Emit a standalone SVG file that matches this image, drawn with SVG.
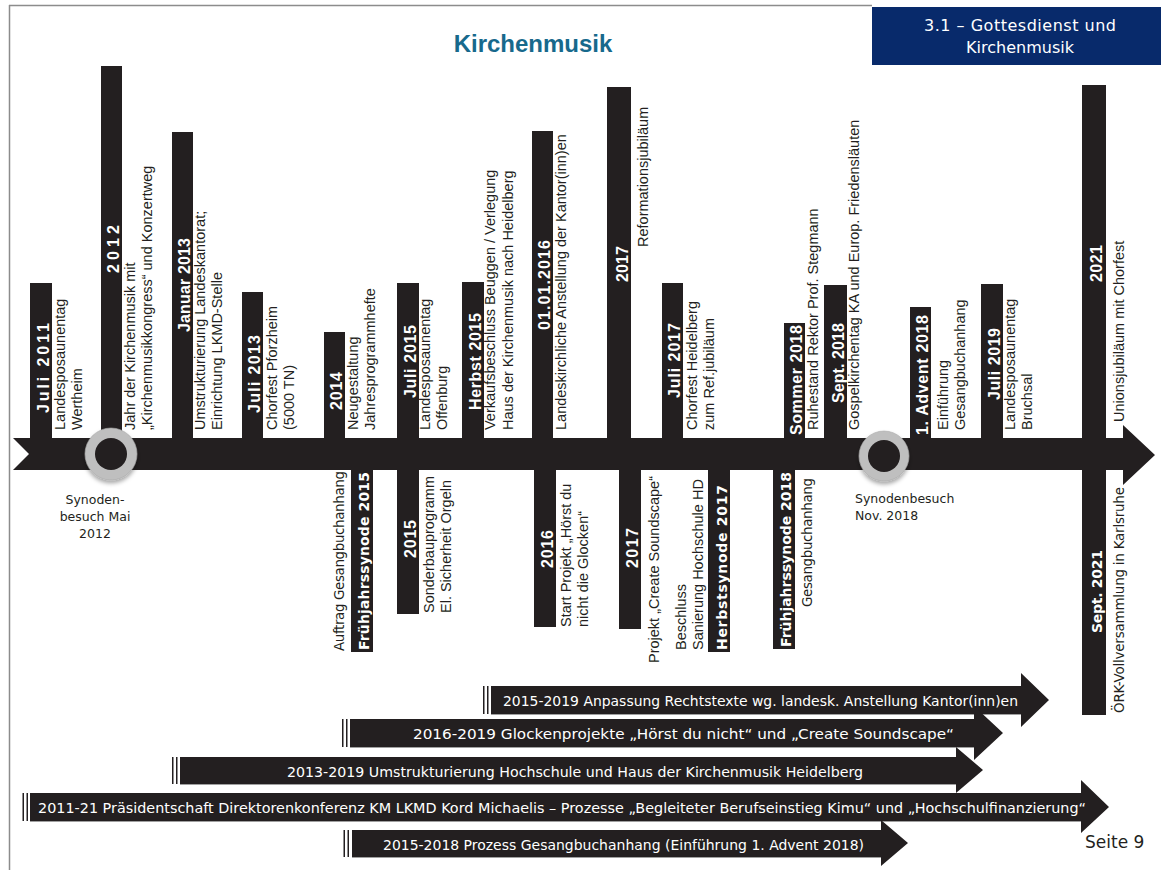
<svg xmlns="http://www.w3.org/2000/svg" width="1161" height="870" viewBox="0 0 1161 870">
<style>
.bar{fill:#231f20}
.yr{font-family:"Liberation Sans",Arial,sans-serif;font-weight:bold;font-size:16px;fill:#fff}
.lb{font-family:"Liberation Sans",Arial,sans-serif;font-size:14.5px;fill:#231f20}
.tb{font-family:"DejaVu Sans",sans-serif;font-weight:bold;font-size:14px;fill:#fff}
.tl{font-family:"DejaVu Sans",sans-serif;font-size:13.5px;fill:#231f20}
.sy{font-family:"DejaVu Sans",sans-serif;font-size:12.5px;fill:#231f20}
.bt{font-family:"DejaVu Sans",sans-serif;font-size:14px;fill:#fff}
.mk{fill:#231f20}
.ring{fill:#bfbfbf;stroke:#a9a9a9;stroke-width:0.6}
.edge{stroke:#a0a0a0;stroke-width:1}
</style>
<defs>
<filter id="sh" x="-30%" y="-30%" width="160%" height="170%">
<feDropShadow dx="0" dy="3" stdDeviation="2" flood-color="#000" flood-opacity="0.35"/>
</filter>
</defs>
<rect width="1161" height="870" fill="#fff"/>
<g id="frame">
<line x1="9.5" y1="5" x2="9.5" y2="870" stroke="#8c8c8c" stroke-width="1.5"/>
<line x1="9" y1="5.5" x2="872" y2="5.5" stroke="#8c8c8c" stroke-width="1.5"/>
</g>
<g id="title">
<text x="533" y="52" text-anchor="middle" font-family="Liberation Sans, Arial, sans-serif" font-weight="bold" font-size="24" fill="#17698c">Kirchenmusik</text>
</g>
<g id="section">
<rect x="872" y="7" width="289" height="58" fill="#082a6b"/>
<text x="1020" y="31" text-anchor="middle" font-family="DejaVu Sans, sans-serif" font-size="16" fill="#fff" textLength="192" lengthAdjust="spacing">3.1 – Gottesdienst und</text>
<text x="1020" y="53" text-anchor="middle" font-family="DejaVu Sans, sans-serif" font-size="16" fill="#fff">Kirchenmusik</text>
</g>

<!-- top bars -->
<g id="n-juli2011">
<rect class="bar" x="30" y="283" width="22" height="160"/>
<text class="yr" transform="translate(48.5,413) rotate(-90)" textLength="90" lengthAdjust="spacing">Juli 2011</text>
<text class="lb" transform="translate(65.4,430) rotate(-90)">Landesposaunentag</text>
<text class="lb" transform="translate(82.4,430) rotate(-90)">Wertheim</text>
</g>
<g id="n-2012">
<rect class="bar" x="101" y="66" width="21" height="377"/>
<text class="yr" transform="translate(118.5,273) rotate(-90)" textLength="48" lengthAdjust="spacing">2012</text>
<text class="lb" transform="translate(135.4,430) rotate(-90)">Jahr der Kirchenmusik mit</text>
<text class="lb" transform="translate(152.4,430) rotate(-90)">„Kirchenmusikkongress“ und Konzertweg</text>
</g>
<g id="n-jan2013">
<rect class="bar" x="172" y="132" width="21" height="311"/>
<text class="yr" transform="translate(189.5,332) rotate(-90)" textLength="94" lengthAdjust="spacing">Januar 2013</text>
<text class="lb" transform="translate(205.4,430) rotate(-90)">Umstrukturierung Landeskantorat;</text>
<text class="lb" transform="translate(222.4,430) rotate(-90)">Einrichtung LKMD-Stelle</text>
</g>
<g id="n-juli2013">
<rect class="bar" x="242" y="292" width="21" height="151"/>
<text class="yr" transform="translate(259.5,413) rotate(-90)" textLength="78" lengthAdjust="spacing">Juli 2013</text>
<text class="lb" transform="translate(277.4,430) rotate(-90)">Chorfest Pforzheim</text>
<text class="lb" transform="translate(294,430) rotate(-90)">(5000 TN)</text>
</g>
<g id="n-2014">
<rect class="bar" x="324" y="332" width="21" height="111"/>
<text class="yr" transform="translate(341.5,410) rotate(-90)" textLength="38" lengthAdjust="spacing">2014</text>
<text class="lb" transform="translate(357.5,430) rotate(-90)">Neugestaltung</text>
<text class="lb" transform="translate(374.5,430) rotate(-90)">Jahresprogrammhefte</text>
</g>
<g id="n-juli2015">
<rect class="bar" x="397" y="283" width="22" height="160"/>
<text class="yr" transform="translate(415.5,398) rotate(-90)" textLength="73" lengthAdjust="spacing">Juli 2015</text>
<text class="lb" transform="translate(430.4,430) rotate(-90)">Landesposaunentag</text>
<text class="lb" transform="translate(447.4,430) rotate(-90)">Offenburg</text>
</g>
<g id="n-herbst2015">
<rect class="bar" x="462" y="282" width="22" height="161"/>
<text class="yr" transform="translate(480.5,410) rotate(-90)" textLength="97" lengthAdjust="spacing">Herbst 2015</text>
<text class="lb" transform="translate(495.4,430) rotate(-90)">Verkaufsbeschluss Beuggen / Verlegung</text>
<text class="lb" transform="translate(513,430) rotate(-90)">Haus der Kirchenmusik nach Heidelberg</text>
</g>
<g id="n-01012016">
<rect class="bar" x="532" y="131" width="21" height="312"/>
<text class="yr" transform="translate(549.5,330) rotate(-90)" textLength="90" lengthAdjust="spacing">01.01.2016</text>
<text class="lb" transform="translate(565.5,430) rotate(-90)">Landeskirchliche Anstellung der Kantor(inn)en</text>
</g>
<g id="n-2017">
<rect class="bar" x="607" y="87" width="24" height="356"/>
<text class="yr" transform="translate(627.5,282) rotate(-90)" textLength="36" lengthAdjust="spacing">2017</text>
<text class="lb" transform="translate(647.5,247) rotate(-90)">Reformationsjubiläum</text>
</g>
<g id="n-juli2017">
<rect class="bar" x="662" y="283" width="21" height="160"/>
<text class="yr" transform="translate(679.5,398) rotate(-90)" textLength="75" lengthAdjust="spacing">Juli 2017</text>
<text class="lb" transform="translate(696.5,430) rotate(-90)">Chorfest Heidelberg</text>
<text class="lb" transform="translate(713.5,430) rotate(-90)">zum Ref.jubiläum</text>
</g>
<g id="n-sommer2018">
<rect class="bar" x="784" y="323" width="21" height="120"/>
<text class="yr" transform="translate(801.5,435) rotate(-90)" textLength="110" lengthAdjust="spacing">Sommer 2018</text>
<text class="lb" transform="translate(817.5,430) rotate(-90)">Ruhestand Rektor Prof. Stegmann</text>
</g>
<g id="n-sept2018">
<rect class="bar" x="824" y="285" width="23" height="158"/>
<text class="yr" transform="translate(843.5,403) rotate(-90)" textLength="80" lengthAdjust="spacing">Sept. 2018</text>
<text class="lb" transform="translate(858.5,430) rotate(-90)">Gospelkirchentag KA und Europ. Friedensläuten</text>
</g>
<g id="n-advent2018">
<rect class="bar" x="910" y="307" width="21" height="136"/>
<text class="yr" transform="translate(927.5,435) rotate(-90)" textLength="120" lengthAdjust="spacing">1. Advent 2018</text>
<text class="lb" transform="translate(947.5,430) rotate(-90)">Einführung</text>
<text class="lb" transform="translate(964.5,430) rotate(-90)">Gesangbuchanhang</text>
</g>
<g id="n-juli2019">
<rect class="bar" x="981" y="284" width="22" height="159"/>
<text class="yr" transform="translate(999.5,400) rotate(-90)" textLength="72" lengthAdjust="spacing">Juli 2019</text>
<text class="lb" transform="translate(1014.5,430) rotate(-90)">Landesposaunentag</text>
<text class="lb" transform="translate(1031.5,430) rotate(-90)">Bruchsal</text>
</g>

<!-- main axis -->
<g id="axis">
<polygon class="bar" points="13,438 1123,438 1123,425 1155,455 1123,485 1123,470 13,470 29,454"/>
</g>

<g id="n-2021">
<rect class="bar" x="1082" y="85" width="24" height="630"/>
<text class="yr" transform="translate(1102,282) rotate(-90)" textLength="37" lengthAdjust="spacing">2021</text>
<text class="lb" transform="translate(1123.5,422) rotate(-90)">Unionsjubiläum mit Chorfest</text>
<text class="tb" transform="translate(1102,633) rotate(-90)" textLength="83" lengthAdjust="spacing">Sept. 2021</text>
<text class="tl" transform="translate(1123.5,713) rotate(-90)" textLength="226" lengthAdjust="spacing">ÖRK-Vollversammlung in Karlsruhe</text>
</g>

<!-- bottom bars -->
<g id="n-fj2015">
<rect class="bar" x="351" y="465" width="22" height="187"/>
<text class="tb" transform="translate(369,650) rotate(-90)" textLength="178" lengthAdjust="spacing">Frühjahrssynode 2015</text>
<text class="tl" transform="translate(343.5,651) rotate(-90)" textLength="180" lengthAdjust="spacing">Auftrag Gesangbuchanhang</text>
</g>
<g id="n-2015b">
<rect class="bar" x="397" y="465" width="22" height="149"/>
<text class="yr" transform="translate(415.5,558) rotate(-90)" textLength="38" lengthAdjust="spacing">2015</text>
<text class="lb" transform="translate(433.5,613) rotate(-90)">Sonderbauprogramm</text>
<text class="lb" transform="translate(450.5,613) rotate(-90)">El. Sicherheit Orgeln</text>
</g>
<g id="n-2016b">
<rect class="bar" x="534" y="465" width="22" height="162"/>
<text class="yr" transform="translate(552.5,568) rotate(-90)" textLength="38" lengthAdjust="spacing">2016</text>
<text class="lb" transform="translate(570.5,627) rotate(-90)">Start Projekt „Hörst du</text>
<text class="lb" transform="translate(587.5,627) rotate(-90)">nicht die Glocken“</text>
</g>
<g id="n-2017b">
<rect class="bar" x="619" y="465" width="22" height="164"/>
<text class="yr" transform="translate(637.5,568) rotate(-90)" textLength="40" lengthAdjust="spacing">2017</text>
<text class="lb" transform="translate(658.5,663) rotate(-90)">Projekt „Create Soundscape“</text>
</g>
<g id="n-hs2017">
<rect class="bar" x="708" y="465" width="22" height="187"/>
<text class="tb" transform="translate(727,650) rotate(-90)" textLength="165" lengthAdjust="spacing">Herbstsynode 2017</text>
<text class="lb" transform="translate(685.5,650) rotate(-90)">Beschluss</text>
<text class="lb" transform="translate(702.5,650) rotate(-90)">Sanierung Hochschule HD</text>
</g>
<g id="n-fj2018">
<rect class="bar" x="773" y="465" width="22" height="184"/>
<text class="tb" transform="translate(791,647) rotate(-90)" textLength="175" lengthAdjust="spacing">Frühjahrssynode 2018</text>
<text class="tl" transform="translate(812,607) rotate(-90)" textLength="129" lengthAdjust="spacing">Gesangbuchanhang</text>
</g>

<!-- synod visits -->
<g id="n-synode2012">
<circle cx="111" cy="454" r="26" class="ring" filter="url(#sh)"/>
<circle cx="111" cy="454" r="16" class="bar"/>
<text class="sy" x="95" y="504" text-anchor="middle">Synoden-</text>
<text class="sy" x="95" y="521" text-anchor="middle">besuch Mai</text>
<text class="sy" x="95" y="538" text-anchor="middle">2012</text>
</g>
<g id="n-synode2018">
<circle cx="884" cy="456" r="25" class="ring" filter="url(#sh)"/>
<circle cx="884" cy="456" r="16" class="bar"/>
<text class="sy" x="855" y="503">Synodenbesuch</text>
<text class="sy" x="855" y="520">Nov. 2018</text>
</g>

<!-- duration arrows -->
<g id="connectors">
<g id="r-2015-2019">
<rect class="mk" x="483" y="686" width="1.5" height="28"/>
<rect class="mk" x="487" y="686" width="1.5" height="28"/>
<polygon class="bar" points="491,686 1021,686 1021,673 1049,700 1021,727 1021,714 491,714"/>
<line class="edge" x1="491" y1="714.5" x2="1021" y2="714.5"/>
<text class="bt" x="503" y="706" textLength="515" lengthAdjust="spacingAndGlyphs">2015-2019 Anpassung Rechtstexte wg. landesk. Anstellung Kantor(inn)en</text>
</g>
<g id="r-2016-2019">
<rect class="mk" x="342" y="719" width="1.5" height="28"/>
<rect class="mk" x="346" y="719" width="1.5" height="28"/>
<polygon class="bar" points="350,719 974,719 974,706 1003,733 974,760 974,747 350,747"/>
<line class="edge" x1="350" y1="747.5" x2="974" y2="747.5"/>
<text class="bt" x="413" y="739" textLength="541" lengthAdjust="spacingAndGlyphs">2016-2019 Glockenprojekte „Hörst du nicht“ und „Create Soundscape“</text>
</g>
<g id="r-2013-2019">
<rect class="mk" x="172" y="757" width="1.5" height="27"/>
<rect class="mk" x="176" y="757" width="1.5" height="27"/>
<polygon class="bar" points="180,757 956,757 956,747 983,770 956,793 956,784 180,784"/>
<line class="edge" x1="180" y1="784.5" x2="956" y2="784.5"/>
<text class="bt" x="287" y="777" textLength="576" lengthAdjust="spacingAndGlyphs">2013-2019 Umstrukturierung Hochschule und Haus der Kirchenmusik Heidelberg</text>
</g>
<g id="r-2011-21">
<rect class="mk" x="22.5" y="793" width="1.5" height="28"/>
<rect class="mk" x="26.5" y="793" width="1.5" height="28"/>
<polygon class="bar" points="30,793 1081,793 1081,780 1109,807 1081,833 1081,821 30,821"/>
<line class="edge" x1="30" y1="821.5" x2="1081" y2="821.5"/>
<text class="bt" x="38" y="813" textLength="1048" lengthAdjust="spacingAndGlyphs">2011-21 Präsidentschaft Direktorenkonferenz KM LKMD Kord Michaelis – Prozesse „Begleiteter Berufseinstieg Kimu“ und „Hochschulfinanzierung“</text>
</g>
<g id="r-2015-2018">
<rect class="mk" x="343.5" y="830" width="1.5" height="27"/>
<rect class="mk" x="347.5" y="830" width="1.5" height="27"/>
<polygon class="bar" points="352,830 881,830 881,820 908,843 881,866 881,857 352,857"/>
<line class="edge" x1="352" y1="857.5" x2="881" y2="857.5"/>
<text class="bt" x="383" y="850" textLength="481" lengthAdjust="spacingAndGlyphs">2015-2018 Prozess Gesangbuchanhang (Einführung 1. Advent 2018)</text>
</g>
</g>

<g id="page">
<text x="1085" y="848" font-family="DejaVu Sans, sans-serif" font-size="17" fill="#231f20">Seite 9</text>
</g>
</svg>
